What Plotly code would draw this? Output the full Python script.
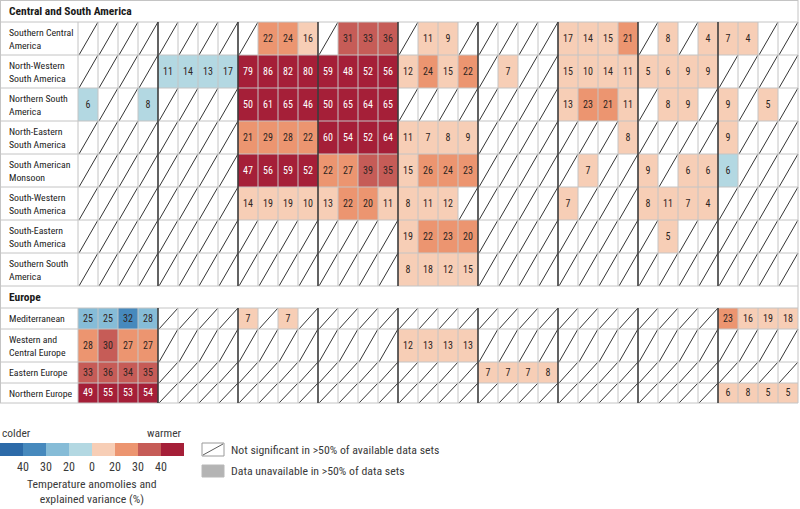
import plotly.graph_objects as go

N = None
# ---------------- data ----------------
csa_title = "Central and South America"
csa_regions = ["Southern Central<br>America", "North-Western<br>South America",
               "Northern South<br>America", "North-Eastern<br>South America",
               "South American<br>Monsoon", "South-Western<br>South America",
               "South-Eastern<br>South America", "Southern South<br>America"]
# negative = colder, positive = warmer, None = not significant
csa_values = [
    [N, N, N, N, N, N, N, N, N, 22, 24, 16, N, 31, 33, 36, N, 11, 9, N, N, N, N, N, 17, 14, 15, 21, N, 8, N, 4, 7, 4, N, N],
    [N, N, N, N, -11, -14, -13, -17, 79, 86, 82, 80, 59, 48, 52, 56, 12, 24, 15, 22, N, 7, N, N, 15, 10, 14, 11, 5, 6, 9, 9, N, N, N, N],
    [-6, N, N, -8, N, N, N, N, 50, 61, 65, 46, 50, 65, 64, 65, N, N, N, N, N, N, N, N, 13, 23, 21, 11, N, 8, 9, N, 9, N, 5, N],
    [N, N, N, N, N, N, N, N, 21, 29, 28, 22, 60, 54, 52, 64, 11, 7, 8, 9, N, N, N, N, N, N, N, 8, N, N, N, N, 9, N, N, N],
    [N, N, N, N, N, N, N, N, 47, 56, 59, 52, 22, 27, 39, 35, 15, 26, 24, 23, N, N, N, N, N, 7, N, N, 9, N, 6, 6, -6, N, N, N],
    [N, N, N, N, N, N, N, N, 14, 19, 19, 10, 13, 22, 20, 11, 8, 11, 12, N, N, N, N, N, 7, N, N, N, 8, 11, 7, 4, N, N, N, N],
    [N, N, N, N, N, N, N, N, N, N, N, N, N, N, N, N, 19, 22, 23, 20, N, N, N, N, N, N, N, N, N, 5, N, N, N, N, N, N],
    [N, N, N, N, N, N, N, N, N, N, N, N, N, N, N, N, 8, 18, 12, 15, N, N, N, N, N, N, N, N, N, N, N, N, N, N, N, N],
]
eu_title = "Europe"
eu_regions = ["Mediterranean", "Western and<br>Central Europe", "Eastern Europe", "Northern Europe"]
eu_values = [
    [-25, -25, -32, -28, N, N, N, N, 7, N, 7, N, N, N, N, N, N, N, N, N, N, N, N, N, N, N, N, N, N, N, N, N, 23, 16, 19, 18],
    [28, 30, 27, 27, N, N, N, N, N, N, N, N, N, N, N, N, 12, 13, 13, 13, N, N, N, N, N, N, N, N, N, N, N, N, N, N, N, N],
    [33, 36, 34, 35, N, N, N, N, N, N, N, N, N, N, N, N, N, N, N, N, 7, 7, 7, 8, N, N, N, N, N, N, N, N, N, N, N, N],
    [49, 55, 53, 54, N, N, N, N, N, N, N, N, N, N, N, N, N, N, N, N, N, N, N, N, N, N, N, N, N, N, N, N, 6, 8, 5, 5],
]
legend_ticks = ["40", "30", "20", "0", "20", "30", "40"]
legend_cold = "colder"
legend_warm = "warmer"
legend_title = "Temperature anomolies and<br>explained variance (%)"
legend_hatch = "Not significant in >50% of available data sets"
legend_gray = "Data unavailable in >50% of data sets"

# ---------------- style / layout ----------------
W, H = 800, 509
FONT = "Liberation Sans Narrow, Arial Narrow, Roboto Condensed, DejaVu Sans Condensed, Roboto, sans-serif"
PALETTE = ["#2c6aa8", "#4689bd", "#86bcd7", "#b3d8e2",
           "#f7ceb6", "#ec9570", "#c65c57", "#a51f38"]
GRID = "#c4c4c4"
DARK = "#3a3a3a"
LABEL_W = 78
CELL_W = 20
NCOL = 36
GROUP = 4
csa_header = (0, 22)
csa_row_h = [33] * len(csa_regions)
eu_header_h = 22
eu_row_h = [21, 33, 21, 20]


def cls(v):
    a = abs(v)
    k = 0 if a < 20 else 1 if a < 30 else 2 if a < 40 else 3
    return 4 + k if v > 0 else 3 - k


x_edges = [LABEL_W + CELL_W * i for i in range(NCOL + 1)]
x_right = x_edges[-1]


def edges_from(start, heights):
    e = [start]
    for h in heights:
        e.append(e[-1] + h)
    return e


csa_edges = edges_from(csa_header[1], csa_row_h)
eu_top = csa_edges[-1] + eu_header_h
eu_edges = edges_from(eu_top, eu_row_h)

cscale = []
for k, c in enumerate(PALETTE):
    cscale.append([k / len(PALETTE), c])
    cscale.append([(k + 1) / len(PALETTE), c])

fig = go.Figure()
shapes = []
annotations = []

hx, hy = [], []
tx, ty, tt, tc = [], [], [], []


def add_block(values, edges):
    z = [[(cls(v) if v is not None else None) for v in row] for row in values]
    fig.add_trace(go.Heatmap(z=z, x=x_edges, y=edges, colorscale=cscale, zmin=-0.5, zmax=7.5,
                             showscale=False, hoverinfo="skip"))
    for r, row in enumerate(values):
        y0, y1 = edges[r], edges[r + 1]
        for c, v in enumerate(row):
            x0, x1 = x_edges[c], x_edges[c + 1]
            if v is None:
                hx.extend([x0 + 1, x1, None])
                hy.extend([y1, y0, None])
            else:
                tx.append((x0 + x1) / 2)
                ty.append((y0 + y1) / 2 + 0.5)
                tt.append(str(abs(v)))
                tc.append("white" if cls(v) in (0, 7) else "#2e2522")
    # grid lines
    for e in edges:
        shapes.append(dict(type="line", x0=0, x1=x_right, y0=e, y1=e, line=dict(color=GRID, width=1), layer="above"))
    for i, xe in enumerate([0] + x_edges):
        thick = (i - 1) % GROUP == 0 and 0 < i - 1 < NCOL
        shapes.append(dict(type="line", x0=xe + (0.5 if xe == 0 else 0), x1=xe + (0.5 if xe == 0 else 0),
                           y0=edges[0], y1=edges[-1],
                           line=dict(color="#3c3c3c" if thick else GRID, width=1.6 if thick else 1),
                           layer="above"))


def add_labels(regions, edges, title, top):
    annotations.append(dict(x=7, y=(top + edges[0]) / 2, text="<b>" + title + "</b>", showarrow=False,
                            xanchor="left", yanchor="middle", font=dict(family=FONT, size=11.5, color="#1a1a1a")))
    for r, name in enumerate(regions):
        annotations.append(dict(x=7, y=(edges[r] + edges[r + 1]) / 2, text=name, showarrow=False,
                                xanchor="left", yanchor="middle", align="left",
                                font=dict(family=FONT, size=9.8, color="#222")))


add_block(csa_values, csa_edges)
add_block(eu_values, eu_edges)
add_labels(csa_regions, csa_edges, csa_title, csa_header[0])
add_labels(eu_regions, eu_edges, eu_title, csa_edges[-1])

# outer lines for headers
shapes.append(dict(type="line", x0=0, x1=x_right, y0=0.5, y1=0.5, line=dict(color=GRID, width=1)))
for (a, b) in [(0, csa_edges[0]), (csa_edges[-1], eu_edges[0])]:
    shapes.append(dict(type="line", x0=0.5, x1=0.5, y0=a, y1=b, line=dict(color=GRID, width=1)))
    shapes.append(dict(type="line", x0=x_right, x1=x_right, y0=a, y1=b, line=dict(color=GRID, width=1)))

fig.add_trace(go.Scatter(x=hx, y=hy, mode="lines", line=dict(color="#1e1e1e", width=0.9),
                         hoverinfo="skip", showlegend=False))
fig.add_trace(go.Scatter(x=tx, y=ty, mode="text", text=tt,
                         textfont=dict(family=FONT, size=10, color=tc),
                         hoverinfo="skip", showlegend=False))

# ---------------- legend ----------------
LEG_Y0, LEG_Y1 = 443, 456
LEG_W = 23
leg_edges = [LEG_W * i for i in range(len(PALETTE) + 1)]
fig.add_trace(go.Heatmap(z=[list(range(len(PALETTE)))], x=leg_edges, y=[LEG_Y0, LEG_Y1],
                         colorscale=cscale, zmin=-0.5, zmax=7.5, showscale=False, hoverinfo="skip"))
for i, t in enumerate(legend_ticks):
    annotations.append(dict(x=leg_edges[i + 1], y=467, text=t, showarrow=False, xanchor="center", yanchor="middle",
                            font=dict(family=FONT, size=12, color=DARK)))
annotations.append(dict(x=0, y=433, text=legend_cold, showarrow=False, xanchor="left", yanchor="middle",
                        font=dict(family=FONT, size=11.5, color=DARK)))
annotations.append(dict(x=leg_edges[-1], y=433, text=legend_warm, showarrow=False, xanchor="right", yanchor="middle",
                        font=dict(family=FONT, size=11.5, color=DARK)))
annotations.append(dict(x=leg_edges[-1] / 2, y=491, text=legend_title, showarrow=False, xanchor="center",
                        yanchor="middle", align="center", font=dict(family=FONT, size=11.8, color=DARK)))

SW_X0, SW_X1 = 202, 224
shapes.append(dict(type="rect", x0=SW_X0, x1=SW_X1, y0=LEG_Y0, y1=LEG_Y1, line=dict(color="#9a9a9a", width=1),
                   fillcolor="white"))
shapes.append(dict(type="line", x0=SW_X0 + 1, x1=SW_X1 - 1, y0=LEG_Y1 - 1, y1=LEG_Y0 + 1,
                   line=dict(color="#333", width=0.8)))
shapes.append(dict(type="rect", x0=SW_X0, x1=SW_X1, y0=465, y1=477, line=dict(color="#b8b8b8", width=1),
                   fillcolor="#b4b4b4"))
annotations.append(dict(x=229, y=450, text=legend_hatch, showarrow=False, xanchor="left", yanchor="middle",
                        font=dict(family=FONT, size=11.8, color=DARK)))
annotations.append(dict(x=229, y=471, text=legend_gray, showarrow=False, xanchor="left", yanchor="middle",
                        font=dict(family=FONT, size=11.8, color=DARK)))

fig.update_layout(
    width=W, height=H, margin=dict(l=0, r=0, t=0, b=0),
    paper_bgcolor="white", plot_bgcolor="white",
    xaxis=dict(range=[0, W], visible=False, fixedrange=True),
    yaxis=dict(range=[H, 0], visible=False, fixedrange=True),
    shapes=shapes, annotations=annotations, showlegend=False,
)
fig.write_html("out.html")
